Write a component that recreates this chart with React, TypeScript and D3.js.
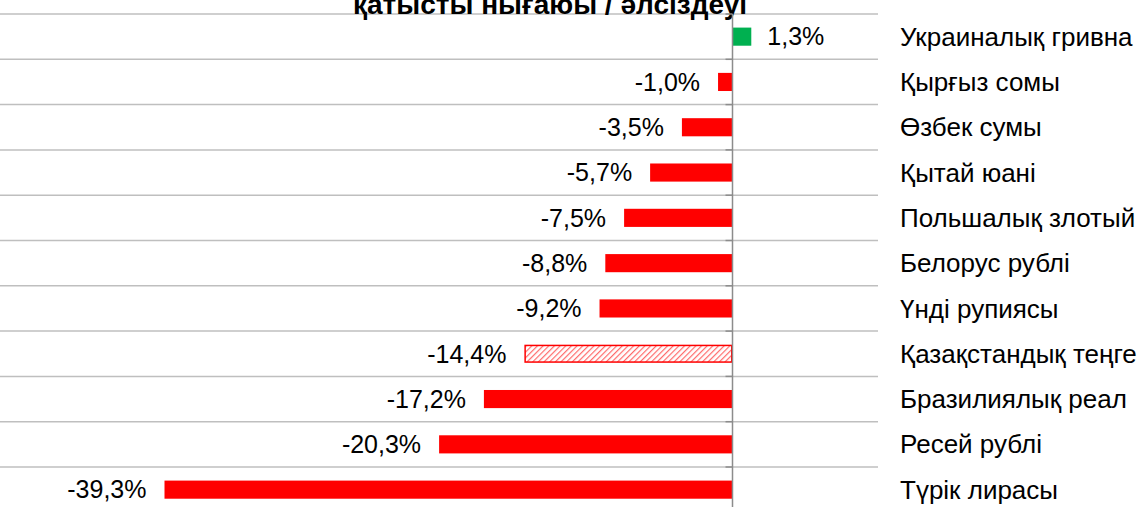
import React from "react";
import * as d3 from "d3";

const categories = [
  "Украиналық гривна",
  "Қырғыз сомы",
  "Өзбек сумы",
  "Қытай юані",
  "Польшалық злотый",
  "Белорус рублі",
  "Үнді рупиясы",
  "Қазақстандық теңге",
  "Бразилиялық реал",
  "Ресей рублі",
  "Түрік лирасы",
];
const values = [1.3, -1.0, -3.5, -5.7, -7.5, -8.8, -9.2, -14.4, -17.2, -20.3, -39.3];
const highlighted = ["Қазақстандық теңге"];
const titleText = "қатысты нығаюы / әлсіздеуі";

const W = 1147;
const H = 507;
const FONT = "Arial, 'Liberation Sans', sans-serif";

export default function App() {
  const x = d3.scaleLinear().domain([-39.3, 0]).range([164.5, 732.5]);
  const step = 45.3;
  const top = 14;
  const y = d3
    .scaleBand<string>()
    .domain(categories)
    .range([top, top + step * categories.length])
    .paddingInner(0.6)
    .paddingOuter(0.3);
  const fmt = (v: number) =>
    d3.format(".1f")(v).replace("\u2212", "-").replace(".", ",") + "%";
  const x0 = x(0);

  return (
    <svg
      width={W}
      height={H}
      style={{ position: "absolute", left: 0, top: 0, background: "#fff" }}
      fontFamily={FONT}
    >
      <defs>
        <pattern
          id="hatch"
          patternUnits="userSpaceOnUse"
          width={4}
          height={4}
          patternTransform="rotate(45)"
        >
          <rect width={4} height={4} fill="#fff" />
          <line x1={0} y1={0} x2={0} y2={4} stroke="#ff6a6a" strokeWidth={2.4} />
        </pattern>
      </defs>
      {/* gridlines */}
      {d3.range(categories.length + 1).map((i) => (
        <line
          key={"g" + i}
          x1={0}
          x2={878}
          y1={top + i * step}
          y2={top + i * step}
          stroke="#bfbfbf"
          strokeWidth={1.5}
        />
      ))}
      {/* title */}
      <text
        x={550}
        y={14}
        textAnchor="middle"
        fontWeight="bold"
        fontSize={28}
        fill="#000"
      >
        {titleText}
      </text>
      {/* bars */}
      {categories.map((c, i) => {
        const v = values[i];
        const bx = Math.min(x(v), x0);
        const bw = Math.abs(x(v) - x0);
        const by = y(c)!;
        const bh = y.bandwidth();
        const hl = highlighted.includes(c);
        const neg = v < 0;
        return (
          <g key={c}>
            {hl ? (
              <rect
                x={bx + 0.75}
                y={by + 0.75}
                width={bw - 1.5}
                height={bh - 1.5}
                fill="url(#hatch)"
                stroke="#ff0000"
                strokeWidth={1.5}
              />
            ) : (
              <rect x={bx} y={by} width={bw} height={bh} fill={neg ? "#ff0000" : "#00b050"} />
            )}
            <text
              x={neg ? x(v) - 18 : x(v) + 16}
              y={by + bh / 2}
              dy="0.35em"
              textAnchor={neg ? "end" : "start"}
              fontSize={25}
              fill="#000"
            >
              {fmt(v)}
            </text>
            <text x={900} y={by + bh / 2} dy="0.35em" fontSize={26} fill="#000">
              {c}
            </text>
          </g>
        );
      })}
      {/* axis */}
      <line x1={x0} x2={x0} y1={top} y2={H} stroke="#8c8c8c" strokeWidth={1.5} />
      {d3.range(categories.length + 1).map((i) => (
        <line
          key={"t" + i}
          x1={x0 - 7}
          x2={x0}
          y1={top + i * step}
          y2={top + i * step}
          stroke="#8c8c8c"
          strokeWidth={1.5}
        />
      ))}
    </svg>
  );
}
